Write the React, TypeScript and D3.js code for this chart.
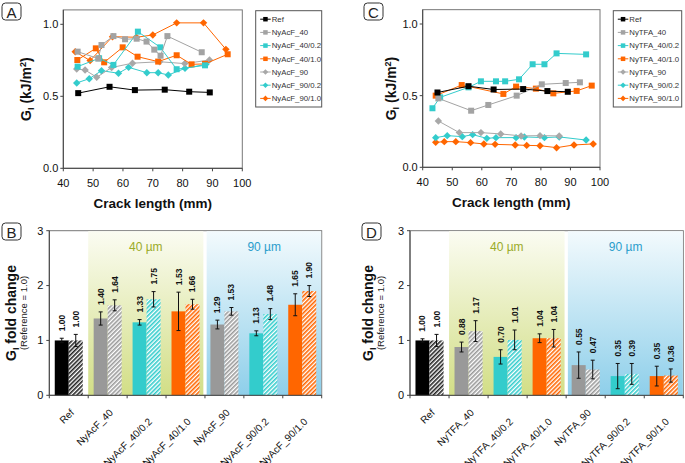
import React from 'react';
import * as d3 from 'd3';

type Pt = [number, number];

const FONT = 'Liberation Sans, Arial, Helvetica, sans-serif';

// ---- axis ticks
const crackTicks = [40, 50, 60, 70, 80, 90, 100];
const giTicks = [0, 0.5, 1.0];
const foldTicks = [0, 1, 2, 3];

// ---- series names (also the bar categories)
const acfNames = ['Ref', 'NyAcF_40', 'NyAcF_40/0.2', 'NyAcF_40/1.0', 'NyAcF_90', 'NyAcF_90/0.2', 'NyAcF_90/1.0'];
const tfaNames = ['Ref', 'NyTFA_40', 'NyTFA_40/0.2', 'NyTFA_40/1.0', 'NyTFA_90', 'NyTFA_90/0.2', 'NyTFA_90/1.0'];
const lineColors = ['#000000', '#a3a3a3', '#33cccc', '#ff6600', '#a8a8a8', '#33cccc', '#ff6600'];
const lineShapes = ['square', 'square', 'square', 'square', 'diamond', 'diamond', 'diamond'];
const barColors = ['#000000', '#999999', '#33cccc', '#ff6600', '#999999', '#33cccc', '#ff6600'];

// ---- G_I vs crack length (mm, kJ/m2)
const refCurve: Pt[] = [[45, 0.522], [55.5, 0.566], [64, 0.543], [74, 0.546], [82.2, 0.532], [89.1, 0.527]];

const acf40: Pt[] = [[44.8, 0.81], [51.7, 0.762], [52.8, 0.856], [56.8, 0.918], [60.7, 0.896], [64.6, 0.9], [67.9, 0.88], [70.5, 0.824], [72.6, 0.782], [74.9, 0.918], [86.4, 0.806]];
const acf40_02: Pt[] = [[44.8, 0.706], [52, 0.764], [56.8, 0.718], [65, 0.949], [72.5, 0.84], [78, 0.688], [87.5, 0.715]];
const acf40_10: Pt[] = [[44.7, 0.752], [50.9, 0.833], [53.7, 0.736], [59.9, 0.84], [64.9, 0.775], [71.8, 0.741], [78, 0.785], [83, 0.722], [87.5, 0.725], [95.1, 0.792]];
const acf90: Pt[] = [[44.5, 0.69], [47.3, 0.683], [51.2, 0.632], [56.2, 0.7], [63.2, 0.73], [72.3, 0.74], [80.7, 0.727], [89, 0.752]];
const acf90_02: Pt[] = [[44.5, 0.593], [48.7, 0.622], [52.8, 0.678], [58.5, 0.66], [61.9, 0.701], [68, 0.664], [71.8, 0.664], [75.2, 0.648], [80.8, 0.694], [87.8, 0.722]];
const acf90_10: Pt[] = [[44, 0.81], [49, 0.748], [56.5, 0.914], [64.5, 0.91], [70, 0.926], [78, 1.01], [87, 1.01], [94.5, 0.826]];

const tfa40: Pt[] = [[45.3, 0.481], [56.4, 0.395], [62.2, 0.435], [71.8, 0.5], [80.3, 0.579], [88.4, 0.588], [93.2, 0.593]];
const tfa40_02: Pt[] = [[43.3, 0.412], [45.9, 0.488], [55.5, 0.558], [59.7, 0.6], [64.8, 0.6], [67.9, 0.6], [72.6, 0.614], [77.2, 0.719], [81.2, 0.719], [85.3, 0.795], [95.3, 0.788]];
const tfa40_10: Pt[] = [[44.4, 0.5], [53.2, 0.574], [67.3, 0.512], [71.6, 0.563], [78.3, 0.549], [84.2, 0.516], [92.1, 0.533], [97.2, 0.57]];
const tfa90: Pt[] = [[45.3, 0.323], [52.4, 0.242], [59.7, 0.242], [66.4, 0.233], [73.3, 0.219], [79.7, 0.221], [86.2, 0.219]];
const tfa90_02: Pt[] = [[44.4, 0.207], [48.3, 0.221], [53.4, 0.214], [56.9, 0.228], [61.7, 0.202], [64.8, 0.207], [71.6, 0.207], [74.4, 0.212], [81.2, 0.207], [86.2, 0.212], [95.3, 0.19]];
const tfa90_10: Pt[] = [[44.4, 0.174], [47.3, 0.179], [51.2, 0.179], [56.2, 0.172], [60.7, 0.163], [64.5, 0.16], [71.3, 0.156], [75.2, 0.153], [79.7, 0.151], [85.3, 0.137], [91.2, 0.156], [97.7, 0.163]];

const acfCurves = [refCurve, acf40, acf40_02, acf40_10, acf90, acf90_02, acf90_10];
const tfaCurves = [refCurve, tfa40, tfa40_02, tfa40_10, tfa90, tfa90_02, tfa90_10];

// ---- G_I fold change (solid / hatched bars)
const acfSolid = [1.0, 1.4, 1.33, 1.53, 1.29, 1.13, 1.65];
const acfSolidErr = [0.04, 0.12, 0.05, 0.35, 0.08, 0.045, 0.2];
const acfHatched = [1.0, 1.64, 1.75, 1.66, 1.53, 1.48, 1.9];
const acfHatchedErr = [0.11, 0.1, 0.14, 0.09, 0.07, 0.1, 0.1];

const tfaSolid = [1.0, 0.88, 0.7, 1.04, 0.55, 0.35, 0.35];
const tfaSolidErr = [0.03, 0.09, 0.13, 0.08, 0.24, 0.23, 0.18];
const tfaHatched = [1.0, 1.17, 1.01, 1.04, 0.47, 0.39, 0.36];
const tfaHatchedErr = [0.11, 0.19, 0.18, 0.16, 0.17, 0.19, 0.12];

const hatchIds: Record<string, string> = {
  '#000000': 'hatch-black',
  '#999999': 'hatch-gray',
  '#33cccc': 'hatch-cyan',
  '#ff6600': 'hatch-orange',
};

function Marker({ shape, cx, cy, size, color }: any) {
  if (shape === 'square') {
    return <rect x={cx - size / 2} y={cy - size / 2} width={size} height={size} fill={color} />;
  }
  const r = size * 0.62;
  return <path d={`M${cx},${cy - r}L${cx + r},${cy}L${cx},${cy + r}L${cx - r},${cy}Z`} fill={color} />;
}

function Tag({ x, y, label }: any) {
  return (
    <g>
      <rect x={x} y={y} width={19} height={17} rx={3.5} fill="white" stroke="#333" strokeWidth={1} />
      <text x={x + 9.5} y={y + 14.5} textAnchor="middle" fontSize={15} fontFamily={FONT} fill="#222">{label}</text>
    </g>
  );
}

function LinePanel({ names, curves, frame, legend, tag, titleX }: any) {
  const x = d3.scaleLinear().domain([40, 100]).range([frame.l, frame.r]);
  const y = d3.scaleLinear().domain([0, 1]).range([frame.b, frame.y1]);
  const top = y(1.1);
  const line = d3.line<Pt>().x(d => x(d[0])).y(d => y(d[1]));
  const order = d3.range(names.length).reverse();
  const cx = (frame.l + frame.r) / 2;
  const cy = (frame.b + top) / 2;
  return (
    <g fontFamily={FONT}>
      <rect x={frame.l} y={top} width={frame.r - frame.l} height={frame.b - top} fill="white" stroke="#777" />
      <line x1={frame.l} x2={frame.l} y1={top} y2={frame.b} stroke="#444" />
      <line x1={frame.l} x2={frame.r} y1={frame.b} y2={frame.b} stroke="#444" />
      {giTicks.map(t => (
        <g key={t}>
          <line x1={frame.l - 3} x2={frame.l} y1={y(t)} y2={y(t)} stroke="#444" />
          <text x={frame.l - 5} y={y(t)} dy="0.35em" textAnchor="end" fontSize={11} fill="#111">{d3.format('.1f')(t)}</text>
        </g>
      ))}
      {crackTicks.map(t => (
        <g key={t}>
          <line x1={x(t)} x2={x(t)} y1={frame.b} y2={frame.b + 3} stroke="#444" />
          <text x={x(t)} y={frame.b + 19} textAnchor="middle" fontSize={11} fill="#111">{t}</text>
        </g>
      ))}
      {order.map(i => (
        <g key={names[i]}>
          <path d={line(curves[i]) || ''} fill="none" stroke={lineColors[i]} strokeWidth={1} />
          {curves[i].map((p: Pt, j: number) => (
            <Marker key={j} shape={lineShapes[i]} cx={x(p[0])} cy={y(p[1])} size={6} color={lineColors[i]} />
          ))}
        </g>
      ))}
      <text x={cx} y={frame.b + 40} textAnchor="middle" fontSize={13.5} fontWeight="bold" fill="#111">Crack length (mm)</text>
      <g transform={`translate(${titleX},${cy}) rotate(-90)`}>
        <text textAnchor="middle" fontSize={14} fontWeight="bold" fill="#111">
          G<tspan fontSize={9} dy={3}>I</tspan><tspan dy={-3}> (kJ/m</tspan><tspan fontSize={9} dy={-5}>2</tspan><tspan dy={5}>)</tspan>
        </text>
      </g>
      <rect x={legend.x} y={legend.y} width={legend.w} height={legend.h} fill="white" stroke="#555" />
      {names.map((n: string, i: number) => {
        const ly = legend.y + 8.5 + i * 13.2;
        return (
          <g key={n}>
            <line x1={legend.x + 4.5} x2={legend.x + 15} y1={ly} y2={ly} stroke={lineColors[i]} />
            <Marker shape={lineShapes[i]} cx={legend.x + 9.75} cy={ly} size={4.5} color={lineColors[i]} />
            <text x={legend.x + 16} y={ly} dy="0.35em" fontSize={7.8} fill="#333">{n}</text>
          </g>
        );
      })}
      <Tag x={tag.x} y={tag.y} label={tag.label} />
    </g>
  );
}

function BarPanel({ names, solid, solidErr, hatched, hatchedErr, frame, tag, titleX }: any) {
  const x = d3.scaleBand<string>().domain(names).range([frame.l, frame.r]);
  const bw = x.bandwidth();
  const sub = d3.scaleBand<string>().domain(['solid', 'hatched']).range([0, bw]).paddingInner(0).paddingOuter(0.39);
  const y = d3.scaleLinear().domain([0, 3]).range([frame.b, frame.t]);
  const greenL = x(names[1])!;
  const greenR = x(names[3])! + bw - 1.6;
  const blueL = x(names[4])! + 1.7;
  const cy = (frame.t + frame.b) / 2;
  const groups = [
    { key: 'solid', vals: solid, errs: solidErr },
    { key: 'hatched', vals: hatched, errs: hatchedErr },
  ];
  return (
    <g fontFamily={FONT}>
      <rect x={frame.l} y={frame.t} width={frame.r - frame.l} height={frame.b - frame.t} fill="white" stroke="#777" />
      <rect x={greenL} y={frame.t + 0.5} width={greenR - greenL} height={frame.b - frame.t - 0.5} fill="url(#grad-green)" />
      <rect x={blueL} y={frame.t + 0.5} width={frame.r - blueL - 0.5} height={frame.b - frame.t - 0.5} fill="url(#grad-blue)" />
      <text x={(greenL + greenR) / 2} y={frame.t + 20} textAnchor="middle" fontSize={12} fill="#9aab28">40 µm</text>
      <text x={(blueL + frame.r) / 2} y={frame.t + 20} textAnchor="middle" fontSize={12} fill="#2a9dcc">90 µm</text>
      {groups.map(g => names.map((n: string, i: number) => {
        const v = g.vals[i];
        const e = g.errs[i];
        const bx = x(n)! + sub(g.key)!;
        const c = bx + sub.bandwidth() / 2;
        const fill = g.key === 'solid' ? barColors[i] : `url(#${hatchIds[barColors[i]]})`;
        return (
          <g key={g.key + n}>
            <rect x={bx} y={y(v)} width={sub.bandwidth()} height={frame.b - y(v)} fill={fill} />
            <line x1={c} x2={c} y1={y(v + e)} y2={y(v - e)} stroke="#111" strokeWidth={1} />
            <line x1={c - 2} x2={c + 2} y1={y(v + e)} y2={y(v + e)} stroke="#111" strokeWidth={1} />
            <line x1={c - 2} x2={c + 2} y1={y(v - e)} y2={y(v - e)} stroke="#111" strokeWidth={1} />
            <g transform={`translate(${c + 3},${y(v + e) - 7}) rotate(-90)`}>
              <text x={0} y={0} fontSize={8.5} fontWeight="bold" fill="#111">{v.toFixed(2)}</text>
            </g>
          </g>
        );
      }))}
      <line x1={frame.l} x2={frame.l} y1={frame.t} y2={frame.b} stroke="#444" />
      <line x1={frame.l} x2={frame.r} y1={frame.b} y2={frame.b} stroke="#444" />
      {foldTicks.map(t => (
        <g key={t}>
          <line x1={frame.l - 3} x2={frame.l} y1={y(t)} y2={y(t)} stroke="#444" />
          <text x={frame.l - 6} y={y(t)} dy="0.35em" textAnchor="end" fontSize={11} fill="#111">{t}</text>
        </g>
      ))}
      {names.map((n: string) => (
        <line key={'t' + n} x1={x(n)!} x2={x(n)!} y1={frame.b} y2={frame.b + 3} stroke="#444" />
      ))}
      <line x1={frame.r} x2={frame.r} y1={frame.b} y2={frame.b + 3} stroke="#444" />
      {names.map((n: string) => {
        const c = x(n)! + bw / 2;
        const off = n.includes('/') ? 27 : 18;
        return (
          <g key={'l' + n} transform={`translate(${c + 6},${frame.b + off}) rotate(-45)`}>
            <text textAnchor="end" fontSize={10} fill="#111">{n}</text>
          </g>
        );
      })}
      <g transform={`translate(${titleX},${cy}) rotate(-90)`}>
        <text textAnchor="middle" fontSize={14} fontWeight="bold" fill="#111">
          G<tspan fontSize={9} dy={3}>I</tspan><tspan dy={-3}> fold change</tspan>
        </text>
      </g>
      <g transform={`translate(${titleX + 10.5},${cy}) rotate(-90)`}>
        <text textAnchor="middle" fontSize={9.5} fill="#222">(Reference = 1.0)</text>
      </g>
      <Tag x={tag.x} y={tag.y} label={tag.label} />
    </g>
  );
}

function Hatch({ id, color, bg }: any) {
  return (
    <pattern id={id} patternUnits="userSpaceOnUse" width={3} height={3} patternTransform="rotate(45)">
      <rect width={3} height={3} fill={bg} />
      <rect width={1.6} height={3} fill={color} />
    </pattern>
  );
}

export default function App() {
  return (
    <svg width={685} height={463} style={{ position: 'absolute', left: 0, top: 0, background: 'white' }}>
      <defs>
        <linearGradient id="grad-green" x1="0" y1="0" x2="0" y2="1">
          <stop offset="0" stopColor="#fbfcf2" />
          <stop offset="1" stopColor="#d2de86" />
        </linearGradient>
        <linearGradient id="grad-blue" x1="0" y1="0" x2="0" y2="1">
          <stop offset="0" stopColor="#f3fafd" />
          <stop offset="1" stopColor="#8ecfea" />
        </linearGradient>
        <Hatch id="hatch-black" color="#222222" bg="#ffffff" />
        <Hatch id="hatch-gray" color="#9a9a9a" bg="#ffffff" />
        <Hatch id="hatch-cyan" color="#33cccc" bg="#ffffff" />
        <Hatch id="hatch-orange" color="#ff6600" bg="#ffffff" />
      </defs>
      <LinePanel names={acfNames} curves={acfCurves} titleX={31}
        frame={{ l: 63.3, r: 242.3, b: 168.3, y1: 24.3 }}
        legend={{ x: 255.7, y: 10.7, w: 66, h: 96.3 }}
        tag={{ x: 2, y: 3, label: 'A' }} />
      <LinePanel names={tfaNames} curves={tfaCurves} titleX={396}
        frame={{ l: 422.7, r: 600, b: 167.3, y1: 24 }}
        legend={{ x: 613.3, y: 10.7, w: 68.4, h: 96.3 }}
        tag={{ x: 364, y: 3, label: 'C' }} />
      <BarPanel names={acfNames} solid={acfSolid} solidErr={acfSolidErr} hatched={acfHatched} hatchedErr={acfHatchedErr}
        frame={{ l: 49.3, r: 321.7, t: 230.7, b: 395.3 }} titleX={16}
        tag={{ x: 2, y: 223, label: 'B' }} />
      <BarPanel names={tfaNames} solid={tfaSolid} solidErr={tfaSolidErr} hatched={tfaHatched} hatchedErr={tfaHatchedErr}
        frame={{ l: 410, r: 683.3, t: 230.7, b: 395.3 }} titleX={373}
        tag={{ x: 362, y: 223, label: 'D' }} />
    </svg>
  );
}
